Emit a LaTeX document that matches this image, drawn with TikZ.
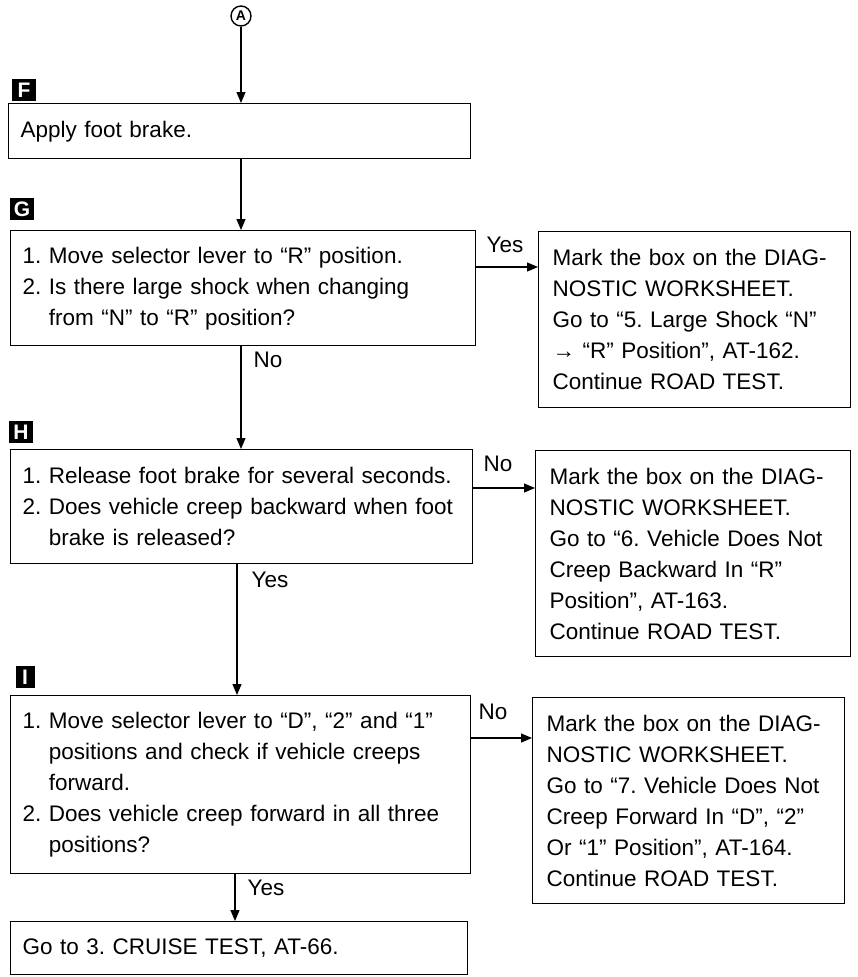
\documentclass[tikz,border=0pt]{standalone}
\usepackage{fontspec}
\setmainfont{Liberation Sans}
\usetikzlibrary{arrows.meta}
\newcommand{\ind}{\hphantom{2. }}
\frenchspacing
\begin{document}
\begin{tikzpicture}[x=1pt,y=-1pt,
 box/.style={draw, line width=1.4pt, anchor=north west, align=left, inner xsep=12pt, inner ysep=0pt, font=\fontsize{22.5}{31}\selectfont},
 rbox/.style={box, inner xsep=14pt},
 tag/.style={fill=black, text=white, font=\bfseries\fontsize{21}{21}\selectfont, inner sep=0pt, minimum width=24pt, minimum height=22pt},
 arr/.style={-{Triangle[length=11pt,width=9pt]}, line width=1.2pt},
 lab/.style={font=\fontsize{22.5}{22.5}\selectfont, inner sep=0pt}]
\useasboundingbox (0,0) rectangle (858,977);

% start connector
\node[circle, draw, line width=1.4pt, inner sep=0pt, minimum size=20pt, font=\bfseries\fontsize{14}{14}\selectfont] (A) at (241,16) {A};

% tags
\node[tag] (tF) at (24,90) {F};
\node[tag] (tG) at (22,209) {G};
\node[tag] (tH) at (21,432) {H};
\node[tag, minimum width=19pt] (tI) at (25,677) {I};

% boxes
\node[box, text width=438pt, minimum height=55pt] (F) at (8,103) {Apply foot brake.};
\node[box, text width=441pt, minimum height=115pt] (G) at (10,230) {1. Move selector lever to “R” position.\\2. Is there large shock when changing\\\ind from “N” to “R” position?};
\node[rbox, text width=284pt, minimum height=176pt] (GR) at (538,231) {Mark the box on the DIAG-\\NOSTIC WORKSHEET.\\Go to “5. Large Shock “N”\\→ “R” Position”, AT-162.\\Continue ROAD TEST.};
\node[box, text width=438pt, minimum height=114pt] (H) at (10,449) {1. Release foot brake for several seconds.\\2. Does vehicle creep backward when foot\\\ind brake is released?};
\node[rbox, text width=287pt, minimum height=206pt] (HR) at (535,450) {Mark the box on the DIAG-\\NOSTIC WORKSHEET.\\Go to “6. Vehicle Does Not\\Creep Backward In “R”\\Position”, AT-163.\\Continue ROAD TEST.};
\node[box, text width=436pt, minimum height=178pt] (I) at (10,695) {1. Move selector lever to “D”, “2” and “1”\\\ind positions and check if vehicle creeps\\\ind forward.\\2. Does vehicle creep forward in all three\\\ind positions?};
\node[rbox, text width=284pt, minimum height=206pt] (IR) at (532,697) {Mark the box on the DIAG-\\NOSTIC WORKSHEET.\\Go to “7. Vehicle Does Not\\Creep Forward In “D”, “2”\\Or “1” Position”, AT-164.\\Continue ROAD TEST.};
\node[box, text width=433pt, minimum height=53pt] (FIN) at (10,921) {Go to 3. CRUISE TEST, AT-66.};

% labels
\node[lab] (l1) at (505,245) {Yes};
\node[lab] (l2) at (268,360) {No};
\node[lab] (l3) at (498,464) {No};
\node[lab] (l4) at (270,580) {Yes};
\node[lab] (l5) at (493,712) {No};
\node[lab] (l6) at (266,888) {Yes};

% helper coordinates
\coordinate (x1) at (241,0);
\coordinate (x2) at (237,0);
\coordinate (x3) at (235,0);
\coordinate (yG) at (0,267);
\coordinate (yH) at (0,488);
\coordinate (yI) at (0,738);

% connectors
\draw[arr] (A) -- (A |- F.north);
\draw[arr] (x1 |- F.south) -- (x1 |- G.north);
\draw[arr] (x1 |- G.south) -- (x1 |- H.north);
\draw[arr] (x2 |- H.south) -- (x2 |- I.north);
\draw[arr] (x3 |- I.south) -- (x3 |- FIN.north);
\draw[arr] (G.east |- yG) -- (GR.west |- yG);
\draw[arr] (H.east |- yH) -- (HR.west |- yH);
\draw[arr] (I.east |- yI) -- (IR.west |- yI);
\end{tikzpicture}
\end{document}
